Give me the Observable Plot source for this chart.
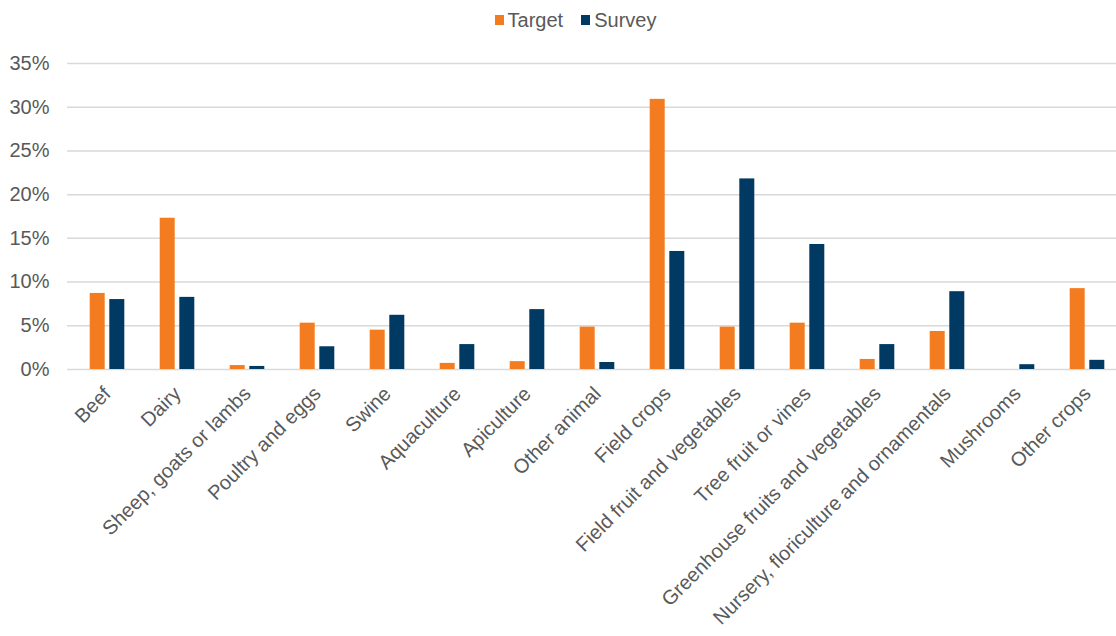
<!DOCTYPE html>
<html>
<head>
<meta charset="utf-8">
<script src="https://cdn.jsdelivr.net/npm/d3@7"></script>
<script src="https://cdn.jsdelivr.net/npm/@observablehq/plot@0.6"></script>
<style>
  html, body { margin: 0; padding: 0; background: #fff; }
  body { width: 1116px; height: 636px; overflow: hidden; font-family: "Liberation Sans", Arial, sans-serif; }
  #legend { height: 40px; display: flex; justify-content: center; align-items: center; padding-left: 35px; box-sizing: border-box; font-size: 20px; color: #595959; }
  .item { display: flex; align-items: center; margin: 0 9px; }
  .sw { width: 9px; height: 10px; margin-right: 4px; }
</style>
</head>
<body>
<div id="legend"></div>
<div id="chart"></div>
<script>
const categories = ["Beef", "Dairy", "Sheep, goats or lambs", "Poultry and eggs", "Swine", "Aquaculture", "Apiculture", "Other animal", "Field crops", "Field fruit and vegetables", "Tree fruit or vines", "Greenhouse fruits and vegetables", "Nursery, floriculture and ornamentals", "Mushrooms", "Other crops"];
const seriesNames = ["Target", "Survey"];
const target = [8.7, 17.3, 0.45, 5.3, 4.5, 0.7, 0.9, 4.85, 30.9, 4.85, 5.3, 1.15, 4.35, 0, 9.25];
const survey = [8.0, 8.25, 0.35, 2.6, 6.2, 2.85, 6.85, 0.8, 13.5, 21.8, 14.3, 2.85, 8.9, 0.55, 1.05];
const yTicks = [0, 5, 10, 15, 20, 25, 30, 35];
const colors = ["#f47c20", "#003a63"];

const targetData = categories.map((c, i) => ({category: c, value: target[i]}));
const surveyData = categories.map((c, i) => ({category: c, value: survey[i]}));

const legend = document.getElementById("legend");
seriesNames.forEach((s, i) => {
  const it = document.createElement("div");
  it.className = "item";
  it.innerHTML = `<span class="sw" style="background:${colors[i]}"></span><span>${s}</span>`;
  legend.appendChild(it);
});

const width = 1116, marginLeft = 67, marginRight = 0;
const xRange = [67.75, 1125.25];
const bw = (xRange[1] - xRange[0]) / categories.length;
const barW = 15.5;
const inset = (bw - barW) / 2;
const off = 9.8;

const chart = Plot.plot({
  width: width,
  height: 596,
  marginLeft: marginLeft,
  marginRight: marginRight,
  marginTop: 23,
  marginBottom: 267,
  style: {fontFamily: "Liberation Sans, Arial, sans-serif", fontSize: "20px", color: "#595959", background: "#fff"},
  x: {domain: categories, range: xRange, padding: 0, label: null},
  y: {domain: [0, 35], label: null},
  marks: [
    Plot.ruleY(yTicks, {stroke: "#d9d9d9", strokeWidth: 1.5}),
    Plot.barY(targetData, {x: "category", y: "value", fill: colors[0], insetLeft: inset, insetRight: inset, dx: -off}),
    Plot.barY(surveyData, {x: "category", y: "value", fill: colors[1], insetLeft: inset, insetRight: inset, dx: off}),
    Plot.axisY({ticks: yTicks, tickFormat: d => d + "%", tickSize: 0, tickPadding: 18, label: null, fontSize: 20}),
    Plot.axisX({tickSize: 0, tickPadding: 21, tickRotate: -45, label: null, fontSize: 20})
  ]
});
document.getElementById("chart").appendChild(chart);
</script>
</body>
</html>
